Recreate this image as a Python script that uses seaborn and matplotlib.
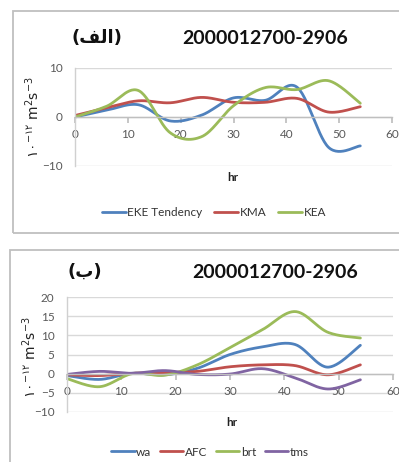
import numpy as np
import pandas as pd
import matplotlib
matplotlib.use("Agg")
import matplotlib.pyplot as plt
import seaborn as sns
from matplotlib.patches import Rectangle
from matplotlib.lines import Line2D

sns.set_theme(style="white")
plt.rcParams['font.family'] = ['Lato', 'DejaVu Sans']

# ---------------- data ----------------
hours = [0, 6, 12, 18, 24, 30, 36, 42, 48, 54]
title_text = "2000012700-2906"

eke_tendency = [0.0, 1.4, 2.5, -0.8, 0.4, 3.9, 3.4, 6.1, -6.2, -5.9]
kma = [0.3, 1.9, 3.3, 2.9, 4.0, 3.0, 3.0, 3.8, 1.0, 2.1]
kea = [0.0, 2.2, 5.4, -3.2, -4.0, 2.3, 6.0, 5.6, 7.4, 2.8]

wa = [-0.5, -1.5, 0.1, -0.3, 1.4, 5.0, 7.0, 7.6, 1.7, 7.4]
afc = [-0.3, -0.5, 0.1, 0.3, 0.6, 1.8, 2.3, 2.1, -0.3, 2.3]
brt = [-1.3, -3.4, 0.0, -0.4, 2.3, 6.8, 11.5, 16.2, 10.8, 9.3]
tms = [-0.2, 0.6, 0.1, 0.8, -0.2, -0.1, 1.3, -1.1, -4.0, -1.6]

top_series = ["EKE Tendency", "KMA", "KEA"]
bottom_series = ["wa", "AFC", "brt", "tms"]
top_yticks = [-10, 0, 10]
bottom_yticks = [-10, -5, 0, 5, 10, 15, 20]
xticks = [0, 10, 20, 30, 40, 50, 60]

BLUE, RED, GREEN, PURPLE = "#4F81BD", "#C0504D", "#9BBB59", "#8064A2"


def smooth(x, y, n=30):
    """Excel-style smoothed line (Catmull-Rom Bezier) through the data points."""
    x = np.asarray(x, float); y = np.asarray(y, float)
    P = np.column_stack([x, y])
    P = np.vstack([P[0], P, P[-1]])
    out = []
    t = np.linspace(0, 1, n)[:, None]
    for i in range(1, len(P) - 2):
        p0, p1, p2, p3 = P[i - 1], P[i], P[i + 1], P[i + 2]
        c1 = p1 + (p2 - p0) / 6.0
        c2 = p2 - (p3 - p1) / 6.0
        seg = ((1 - t) ** 3) * p1 + 3 * ((1 - t) ** 2) * t * c1 + 3 * (1 - t) * t ** 2 * c2 + t ** 3 * p2
        out.append(seg if i == 1 else seg[1:])
    seg = np.vstack(out)
    return seg[:, 0], seg[:, 1]


def build(series_names, values):
    rows = []
    for name, vals in zip(series_names, values):
        sx, sy = smooth(hours, vals)
        rows.append(pd.DataFrame({"hr": sx, "val": sy, "series": name, "order": np.arange(len(sx))}))
    return pd.concat(rows, ignore_index=True)


W, H = 399, 462
fig = plt.figure(figsize=(W / 100, H / 100), dpi=100)

# panel borders
fig.patches.append(Rectangle((13 / W, 1 - 233 / H), 400 / W, (233 - 11) / H, transform=fig.transFigure,
                             fill=False, edgecolor="#BFBFBF", lw=1.3))
fig.patches.append(Rectangle((10 / W, 1 - 470 / H), 400 / W, (470 - 250) / H, transform=fig.transFigure,
                             fill=False, edgecolor="#BFBFBF", lw=1.3))

tick_color = "#595959"
grid_color = "#D9D9D9"


def style_axes(ax, yticks, ylim):
    ax.set_xlim(0, 60)
    ax.set_ylim(*ylim)
    ax.set_xticks(xticks)
    ax.set_yticks(yticks)
    for yt in yticks:
        ax.axhline(yt, color=grid_color, lw=1.0, zorder=0)
    ax.spines['top'].set_visible(False)
    ax.spines['right'].set_visible(False)
    ax.spines['bottom'].set_position(('data', 0))
    ax.spines['bottom'].set_color("#BFBFBF")
    ax.spines['left'].set_color("#D0D0D0")
    ax.spines['bottom'].set_linewidth(1.0)
    ax.spines['left'].set_linewidth(1.0)
    ax.tick_params(axis='x', direction='out', length=4, color="#BFBFBF", pad=5,
                   labelsize=8.5, labelcolor=tick_color, bottom=True)
    ax.tick_params(axis='y', length=0, pad=9, labelsize=8.5, labelcolor=tick_color, left=False)
    ax.set_xlabel("")
    ax.set_ylabel("")
    ax.patch.set_alpha(0)
    if ax.get_legend() is not None:
        ax.get_legend().remove()


ylabel = "\u06f1\u06f0$^{-\u06f1\u06f2}$ m$^{2}$s$^{-3}$"

# ---------------- top panel ----------------
ax1 = fig.add_axes([75 / W, 1 - 166 / H, (392 - 75) / W, (166 - 68) / H])
df1 = build(top_series, [eke_tendency, kma, kea])
sns.lineplot(data=df1, x="hr", y="val", hue="series", units="series", estimator=None, sort=False,
             palette=[BLUE, RED, GREEN], linewidth=2.0, ax=ax1)
style_axes(ax1, top_yticks, (-10, 10))

fig.text(265 / W, 1 - 39 / H, title_text, ha="center", va="center", fontsize=14, fontweight="bold",
         color="#111111")
fig.text(97 / W, 1 - 38 / H, "(\ufed2\ufedf\ufe8d)", ha="center", va="center", fontsize=13,
         fontweight="bold", family="DejaVu Sans", color="#111111")
fig.text(233 / W, 1 - 177 / H, "hr", ha="center", va="center", fontsize=8.5, fontweight="bold",
         color="#222222")
fig.text(33 / W, 1 - 117 / H, ylabel, ha="center", va="center", rotation=90, fontsize=10,
         family=["DejaVu Sans"], color="#222222")

handles1 = [Line2D([], [], color=c, lw=2.0) for c in [BLUE, RED, GREEN]]
fig.legend(handles1, top_series, loc="center", bbox_to_anchor=(214 / W, 1 - 213 / H), ncol=3,
           frameon=False, fontsize=8.5, handlelength=2.0, handletextpad=0.15, columnspacing=1.0,
           labelcolor="#333333")

# ---------------- bottom panel ----------------
ax2 = fig.add_axes([67 / W, 1 - 412 / H, (393 - 67) / W, (412 - 297) / H])
df2 = build(bottom_series, [wa, afc, brt, tms])
sns.lineplot(data=df2, x="hr", y="val", hue="series", units="series", estimator=None, sort=False,
             palette=[BLUE, RED, GREEN, PURPLE], linewidth=2.0, ax=ax2)
style_axes(ax2, bottom_yticks, (-10, 20))

fig.text(275 / W, 1 - 272 / H, title_text, ha="center", va="center", fontsize=14, fontweight="bold",
         color="#111111")
fig.text(85 / W, 1 - 272 / H, "(\ufe8f)", ha="center", va="center", fontsize=13,
         fontweight="bold", family="DejaVu Sans", color="#111111")
fig.text(232 / W, 1 - 423 / H, "hr", ha="center", va="center", fontsize=8.5, fontweight="bold",
         color="#222222")
fig.text(30 / W, 1 - 357 / H, ylabel, ha="center", va="center", rotation=90, fontsize=10,
         family=["DejaVu Sans"], color="#222222")

handles2 = [Line2D([], [], color=c, lw=2.0) for c in [BLUE, RED, GREEN, PURPLE]]
fig.legend(handles2, bottom_series, loc="center", bbox_to_anchor=(210 / W, 1 - 452 / H), ncol=4,
           frameon=False, fontsize=8.5, handlelength=2.0, handletextpad=0.15, columnspacing=0.7,
           labelcolor="#333333")

fig.savefig("out.png", dpi=100)
